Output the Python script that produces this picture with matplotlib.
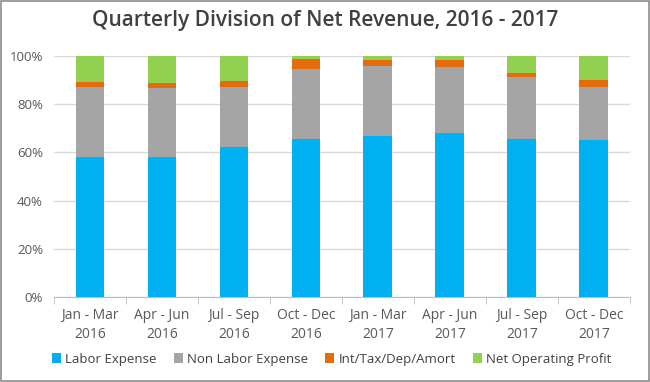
import numpy as np
import matplotlib.pyplot as plt
from matplotlib.patches import Rectangle

plt.rcParams['font.family'] = ['Open Sans', 'DejaVu Sans']

# data (share of net revenue, %)
quarters = ["Jan - Mar\n2016", "Apr - Jun\n2016", "Jul - Sep\n2016", "Oct - Dec\n2016",
            "Jan - Mar\n2017", "Apr - Jun\n2017", "Jul - Sep\n2017", "Oct - Dec\n2017"]
labor = [58.2, 58.2, 62.1, 65.8, 66.9, 67.9, 65.8, 65.0]
non_labor = [29.2, 28.4, 25.3, 28.8, 29.1, 27.5, 25.5, 22.1]
int_tax = [1.7, 2.3, 2.1, 4.2, 2.3, 2.9, 1.8, 2.8]
net_profit = [10.9, 11.1, 10.5, 1.2, 1.7, 1.7, 6.9, 10.1]

series = [("Labor Expense", labor, "#00B0F0"),
          ("Non Labor Expense", non_labor, "#A5A5A5"),
          ("Int/Tax/Dep/Amort", int_tax, "#E46C0A"),
          ("Net Operating Profit", net_profit, "#92D050")]

fig = plt.figure(figsize=(6.5, 3.82), dpi=100)
ax = fig.add_axes([0.083, 0.2225, 0.886, 0.6305])

x = np.arange(len(quarters))
bottom = np.zeros(len(quarters))
for name, vals, col in series:
    vals = np.array(vals) / 100.0
    ax.bar(x, vals, width=0.4, bottom=bottom, color=col, label=name, zorder=3)
    bottom += vals

ax.set_xlim(-0.5, len(quarters) - 0.5)
ax.set_ylim(0, 1)
ax.set_yticks(np.arange(0, 1.01, 0.2))
ax.set_yticklabels([f"{int(v*100)}%" for v in np.arange(0, 1.01, 0.2)])
ax.yaxis.grid(True, color="#D9D9D9", linewidth=1, zorder=0)
ax.tick_params(axis="y", length=0, labelsize=9.5, labelcolor="#595959", pad=8)

ax.set_xticks(x)
ax.set_xticklabels(quarters, linespacing=1.35)
ax.set_xticks(np.arange(-0.5, len(quarters), 1), minor=True)
ax.tick_params(axis="x", which="major", length=0, labelsize=10, labelcolor="#595959", pad=8)
ax.tick_params(axis="x", which="minor", length=5, color="#BFBFBF")

for s in ["top", "right", "left"]:
    ax.spines[s].set_visible(False)
ax.spines["bottom"].set_color("#BFBFBF")

fig.suptitle("Quarterly Division of Net Revenue, 2016 - 2017", x=0.5, y=0.975,
             fontsize=15, color="#404040", fontweight="semibold")

fig.legend(loc="center", bbox_to_anchor=(0.51, 0.06), ncol=4, frameon=False,
           fontsize=9.5, handlelength=0.7, handleheight=0.7, handletextpad=0.3,
           columnspacing=1.3, labelcolor="#404040")

fig.patches.append(Rectangle((0.001, 0.002), 0.997, 0.995, transform=fig.transFigure,
                             fill=False, edgecolor="#8C8C8C", linewidth=1.2))

fig.savefig("out.png", dpi=100)
